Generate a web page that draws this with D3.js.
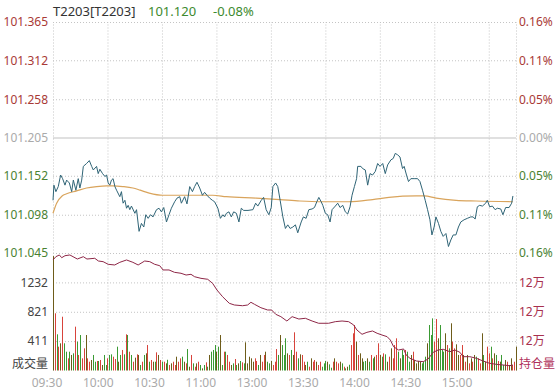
<!DOCTYPE html>
<html>
<head>
<meta charset="utf-8">
<script src="https://cdn.jsdelivr.net/npm/d3@7/dist/d3.min.js"></script>
<style>
  body { margin: 0; background: #fff; }
  svg text { font-family: "Noto Sans", "Noto Sans CJK SC", sans-serif; }
</style>
</head>
<body>
<div id="chart"></div>
<script>
// T2203 intraday - minutes counted from 09:30 (lunch break removed, 255 min total)
var priceTicks = [101.365, 101.312, 101.258, 101.205, 101.152, 101.098, 101.045];
var pctLabels = ["0.16%", "0.11%", "0.05%", "0.00%", "0.05%", "0.11%", "0.16%"];
var volTicks = [1232, 821, 411];
var oiTicks = [121200, 120800, 120400];
var timeLabels = ["09:30", "10:00", "10:30", "11:00", "13:00", "13:30", "14:00", "14:30", "15:00"];
var gridMinutes = [0, 30, 60, 90, 120, 150, 180, 210, 240, 255];

var priceT = [0,0.5,1.6,2.9,4.2,5.3,6.6,7.5,9,10.3,11.2,12.6,13.9,14.8,15.8,16.7,18.5,20,21.3,22.2,24,24.9,25.8,27.3,28.6,29.5,30.4,31.3,32.2,33.1,34.1,35,36.8,37.7,38.6,39.6,40.5,41.4,42.3,43.2,45.1,46,47.4,48.7,50,51.1,52.4,53.7,55.1,57,58.4,59.7,61,62.5,63.9,65.2,67,68.3,69.8,70.7,72.5,73.8,75.3,76.8,78,79.3,80.8,82.3,83.5,84.8,86.3,87.8,89,90.8,92.2,93.6,94.5,95.5,96.9,98.2,99.5,101,102.4,103.7,105,107.4,110.1,111.6,112.8,114.7,116,117.4,118.9,120.2,121.1,122.6,123.8,125.1,126.6,128,129.3,130.6,
  132.1,133.5,134.8,136.7,137.9,139.4,140.9,142.7,144,145.3,146.4,147.7,148.6,150,151.3,152.6,153.7,155.5,156.8,158.1,159.6,161,162.3,163.6,164.7,166,167.2,167.8,169.6,170.5,172,173.3,174.6,176,177.5,178.8,180.1,181.6,183,184.3,186.1,187.4,188.5,189.8,191.1,192.5,193.4,194.7,195.8,197.1,198.9,200.8,202.1,203.5,205,206.3,207.6,208.7,209.9,210.9,212.3,213.6,214.9,216.4,217.8,219.1,220.4,221.9,223.3,224.6,226.4,228.2,230.1,231.4,232.5,233.7,235,236.5,238.3,239.2,240.5,242,243.5,244.7,246.6,247.8,249.3,251.2,252.6,253.3];
var priceV = [101.118,101.139,101.130,101.137,101.153,101.148,101.139,101.146,101.142,101.130,101.146,101.132,101.148,101.135,101.146,101.165,101.169,101.173,101.165,101.160,101.165,101.155,101.161,101.155,101.151,101.153,101.142,101.139,101.146,101.148,101.137,101.132,101.123,101.130,101.114,101.118,101.107,101.111,101.105,101.110,101.100,101.105,101.075,101.086,101.081,101.098,101.093,101.098,101.095,101.105,101.107,101.102,101.108,101.088,101.098,101.107,101.116,101.121,101.123,101.114,101.123,101.113,101.137,101.130,101.137,101.143,101.135,101.125,101.129,101.125,101.121,101.118,101.116,101.107,101.093,101.098,101.095,101.100,101.102,101.095,101.102,101.100,101.088,101.107,101.104,101.104,101.105,101.114,101.110,101.118,101.122,101.105,101.098,101.108,101.137,101.142,101.137,101.118,101.095,101.079,101.084,101.079,
  101.081,101.084,101.073,101.088,101.095,101.093,101.105,101.106,101.108,101.116,101.122,101.116,101.111,101.100,101.098,101.088,101.105,101.110,101.114,101.108,101.111,101.102,101.099,101.109,101.125,101.137,101.148,101.165,101.165,101.162,101.160,101.139,101.155,101.153,101.158,101.169,101.165,101.169,101.155,101.167,101.174,101.176,101.183,101.181,101.178,101.162,101.165,101.153,101.144,101.148,101.148,101.148,101.144,101.132,101.118,101.105,101.091,101.070,101.081,101.095,101.086,101.075,101.068,101.072,101.054,101.063,101.070,101.070,101.081,101.088,101.091,101.093,101.095,101.095,101.092,101.109,101.111,101.110,101.114,101.118,101.109,101.110,101.105,101.107,101.106,101.098,101.108,101.108,101.114,101.124];

var avgT = [0,2,5,7.5,13,18.5,24,29.5,33,38.5,44,48,53,60.5,75,88,95.5,112,125,136,148,163,176,185,200,204.5,211,222,233,253.3];
var avgV = [101.100,101.114,101.124,101.127,101.131,101.135,101.137,101.138,101.138,101.137,101.135,101.132,101.128,101.125,101.125,101.125,101.123,101.121,101.119,101.117,101.116,101.116,101.119,101.122,101.124,101.124,101.121,101.118,101.117,101.116];

// open interest (持仓量)
var oiT = [0,1.6,3.5,4.8,6.6,9.3,13.4,16.7,18.7,23,25,27.6,30.4,34,36.8,40.5,44,46.9,50.5,53.3,56,58.8,60.6,63.9,66.9,70.5,73.3,76,78,81.5,85.2,87.9,90.3,93.4,97.1,99.9,104.4,107.2,109,111,114.5,118.2,120.4,122.7,125.5,128.8,131.7,135.4,139,142.7,146.3,151.8,155.5,159.2,162.8,165.6,167.4,170.2,172.9,176,178.5,181.2,184,185.8,187.6,190.3,193.1,194.5,196.6,200.2,203.9,206.6,209.4,212.1,214.9,218.6,221.3,224.1,225.9,229.6,233.2,236.9,240.5,244.2,247.9,251.5,253.3];
var oiV = [121505,121550,121573,121536,121563,121573,121518,121550,121518,121528,121491,121482,121446,121437,121473,121505,121473,121437,121491,121482,121446,121427,121369,121369,121337,121324,121300,121310,121277,121255,121242,121187,121096,121005,120915,120892,120882,120892,120929,120901,120855,120824,120824,120765,120733,120674,120733,120701,120711,120674,120643,120643,120665,120674,120665,120620,120551,120493,120520,120538,120507,120483,120461,120415,120324,120279,120293,120211,120166,120129,120120,120157,120248,120279,120289,120256,120279,120248,120188,120188,120166,120129,120098,120084,120075,120065,120075];

// volume (成交量), one bar per minute
var volume = [1600,800,506,333,380,752,380,263,170,263,217,240,613,403,217,496,170,310,496,170,123,147,217,123,133,133,147,77,217,77,170,217,226,193,161,333,123,217,287,226,506,496,263,217,123,179,226,217,77,123,217,240,356,123,147,123,123,254,217,147,123,123,100,150,
  77,100,123,77,193,123,170,193,123,100,300,53,217,100,53,100,123,77,30,77,114,53,217,263,287,356,263,333,496,77,263,263,217,123,77,100,
  161,77,100,133,114,100,394,100,193,170,123,170,133,77,217,123,217,263,123,100,133,77,123,300,217,496,356,217,450,240,
  217,287,217,534,263,170,226,217,123,77,123,53,170,123,147,123,77,123,53,100,133,123,86,39,123,170,123,100,123,100,53,30,53,80,
  356,520,636,403,217,240,170,123,133,170,123,217,170,193,217,380,217,193,240,226,123,193,310,170,356,450,263,170,287,217,287,
  263,123,217,263,147,100,133,123,100,123,193,380,636,496,729,403,720,450,636,287,263,520,356,310,660,403,310,366,217,217,356,217,123,217,100,170,123,217,193,170,100,520,217,123,333,240,333,170,240,217,133,123,217,77,147,123,77,170,77,123,333];

var width = 556, height = 390;
// plot box (note: "top" is reserved on window, so use other names)
var plotL = 53, plotR = 516, plotT = 22, plotB = 370.5;

var svg = d3.select("#chart").append("svg")
    .attr("width", width)
    .attr("height", height);

var x = d3.scaleLinear().domain([0, 255]).range([plotL, plotR]);
var yP = d3.scaleLinear().domain([101.045, 101.365]).range([253, plotT]);
var yV = d3.scaleLinear().domain([0, 1643]).range([plotB, 253]);
var yOI = d3.scaleLinear().domain([120000, 121600]).range([plotB, 253]);
var xLab = d3.scalePoint().domain(timeLabels).range([47, 457]);

//Grid lines - dotted
function dotted(g) {
    g.select(".domain").remove();
    g.selectAll("line").attr("stroke", "#c4c4c4").attr("stroke-dasharray", "1,2");
}
svg.append("g").attr("transform", "translate(" + plotL + ",0)")
    .call(d3.axisLeft(yP).tickValues(priceTicks).tickSize(-(plotR - plotL)).tickFormat(""))
    .call(dotted)
    .selectAll(".tick").filter(function (d) { return d === 101.205; })
    .select("line").attr("stroke", "#d6d6d6").attr("stroke-width", 1.6).attr("stroke-dasharray", null);
svg.append("g").attr("transform", "translate(" + plotL + ",0)")
    .call(d3.axisLeft(yV).tickValues(volTicks).tickSize(-(plotR - plotL)).tickFormat(""))
    .call(dotted);
svg.append("g").attr("transform", "translate(0," + plotB + ")")
    .call(d3.axisBottom(x).tickValues(gridMinutes).tickSize(-(plotB - plotT)).tickFormat(""))
    .call(dotted);

//Volume bars - colour from the price move in that minute
var bis = d3.bisector(function (d) { return d; }).right;
function barColour(i) {
    var k = bis(priceT, i) - 1;
    if (k < 1 || priceT[k] <= i - 1) return "#6e5c1a";
    if (priceV[k] > priceV[k - 1]) return "#d8433b";
    if (priceV[k] < priceV[k - 1]) return "#3a9a33";
    return "#6e5c1a";
}
svg.append("g").selectAll("line")
    .data(volume)
    .enter().append("line")
    .attr("x1", function (d, i) { return Math.round(x(i)) + 0.5; })
    .attr("x2", function (d, i) { return Math.round(x(i)) + 0.5; })
    .attr("y1", yV(0))
    .attr("y2", function (d) { return yV(d); })
    .attr("stroke", function (d, i) { return barColour(i); })
    .attr("stroke-width", 1);

//Lines
var oiLine = d3.line().x(function (d) { return x(d[0]); }).y(function (d) { return yOI(d[1]); });
svg.append("path")
    .attr("d", oiLine(d3.zip(oiT, oiV)))
    .attr("fill", "none").attr("stroke", "#8e2747").attr("stroke-width", 1);

var avgLine = d3.line().x(function (d) { return x(d[0]); }).y(function (d) { return yP(d[1]); }).curve(d3.curveMonotoneX);
svg.append("path")
    .attr("d", avgLine(d3.zip(avgT, avgV)))
    .attr("fill", "none").attr("stroke", "#d9a45c").attr("stroke-width", 1.2);
var priceLine = d3.line().x(function (d) { return x(d[0]); }).y(function (d) { return yP(d[1]); });
svg.append("path")
    .attr("d", priceLine(d3.zip(priceT, priceV)))
    .attr("fill", "none").attr("stroke", "#2f6476").attr("stroke-width", 1);

//Axis labels
function plain(g) {
    g.select(".domain").remove();
    g.selectAll("line").remove();
    g.selectAll("text").attr("font-size", 12);
    g.attr("font-family", null);
}
function tone(d, i) { return i < 3 ? "#a93a36" : (i === 3 ? "#aaaaaa" : "#4a8232"); }

svg.append("g").attr("transform", "translate(" + plotL + ",0)")
    .call(d3.axisLeft(yP).tickValues(priceTicks).tickFormat(d3.format(".3f")).tickSize(0).tickPadding(5))
    .call(plain)
    .selectAll("text").attr("fill", tone);
svg.append("g").attr("transform", "translate(" + plotL + ",0)")
    .call(d3.axisLeft(yV).tickValues(volTicks).tickFormat(d3.format("d")).tickSize(0).tickPadding(5))
    .call(plain)
    .selectAll("text").attr("fill", "#444");
svg.append("g").attr("transform", "translate(" + plotR + ",0)")
    .call(d3.axisRight(yP).tickValues(priceTicks).tickFormat(function (d, i) { return pctLabels[i]; }).tickSize(0).tickPadding(3))
    .call(plain)
    .selectAll("text").attr("fill", tone);
svg.append("g").attr("transform", "translate(" + plotR + ",0)")
    .call(d3.axisRight(yOI).tickValues(oiTicks).tickFormat(function (d) { return Math.floor(d / 10000) + "万"; }).tickSize(0).tickPadding(3))
    .call(plain)
    .selectAll("text").attr("fill", "#a8304e");

svg.append("text").attr("x", plotL - 5).attr("y", yV(0) - 3)
    .attr("text-anchor", "end").attr("font-size", 12).attr("fill", "#444").text("成交量");
svg.append("text").attr("x", plotR + 3).attr("y", yV(0) - 3)
    .attr("font-size", 12).attr("fill", "#b0305a").text("持仓量");

svg.append("g").selectAll("text")
    .data(timeLabels)
    .enter().append("text")
    .attr("x", function (d) { return xLab(d); })
    .attr("y", 387)
    .attr("text-anchor", "middle")
    .attr("font-size", 12)
    .attr("fill", "#aaaaaa")
    .text(function (d) { return d; });

//Header
svg.append("text").attr("x", 53).attr("y", 16).attr("font-size", 13).attr("fill", "#333").text("T2203[T2203]");
svg.append("text").attr("x", 148).attr("y", 16).attr("font-size", 13).attr("fill", "#3d8a2e").text("101.120");
svg.append("text").attr("x", 213).attr("y", 16).attr("font-size", 13).attr("fill", "#3d8a2e").text("-0.08%");
</script>
</body>
</html>
